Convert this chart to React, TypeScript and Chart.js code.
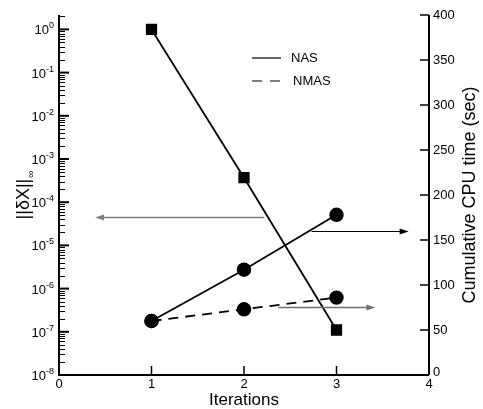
import React, { useEffect, useRef } from 'react';
import { Chart, registerables } from 'chart.js';

Chart.register(...registerables);

// ---- data ----
const iterations = [1, 2, 3];
const nasError = [1.0, 3.7e-4, 1.1e-7];
const nasCpu = [60, 117, 178];
const nmasCpu = [60, 73, 86];

const xTicks = [0, 1, 2, 3, 4];
const errorExponents = [-8, -7, -6, -5, -4, -3, -2, -1, 0];
const cpuTicks = [0, 50, 100, 150, 200, 250, 300, 350, 400];

const seriesNames = ['NAS', 'NMAS'];
const xTitle = 'Iterations';
const leftTitle = '||δX||';
const leftTitleSub = '∞';
const rightTitle = 'Cumulative CPU time (sec)';

// arrow annotations in data coordinates: [xFrom, xTo, value, axis]
const arrowFromX = [2.22, 2.73, 2.37];
const arrowToX = [0.39, 3.78, 3.42];
const arrowValue = [4.6e-5, 160, 75.5];
const arrowAxis = ['y', 'y1', 'y1'];
const arrowColor = ['#808080', '#000000', '#707070'];

const FONT = "'Liberation Sans', Arial, Helvetica, sans-serif";

const axesPlugin = {
  id: 'customAxes',
  afterDraw(chart: any) {
    const ctx: CanvasRenderingContext2D = chart.ctx;
    const area = chart.chartArea;
    const xs = chart.scales.x;
    const ys = chart.scales.y;
    const y1 = chart.scales.y1;
    ctx.save();
    ctx.strokeStyle = '#000';
    ctx.fillStyle = '#000';

    // arrows
    for (let i = 0; i < arrowFromX.length; i++) {
      const sc = arrowAxis[i] === 'y' ? ys : y1;
      const py = Math.round(sc.getPixelForValue(arrowValue[i])) + 0.5;
      const x0 = xs.getPixelForValue(arrowFromX[i]);
      const x1 = xs.getPixelForValue(arrowToX[i]);
      const dir = x1 > x0 ? 1 : -1;
      ctx.strokeStyle = arrowColor[i];
      ctx.fillStyle = arrowColor[i];
      ctx.lineWidth = i === 1 ? 1.2 : 1.6;
      ctx.beginPath();
      ctx.moveTo(x0, py);
      ctx.lineTo(x1 - dir * 7, py);
      ctx.stroke();
      ctx.beginPath();
      ctx.moveTo(x1, py);
      ctx.lineTo(x1 - dir * 9, py - 3);
      ctx.lineTo(x1 - dir * 9, py + 3);
      ctx.closePath();
      ctx.fill();
    }
    ctx.strokeStyle = '#000';
    ctx.fillStyle = '#000';

    // axis lines
    ctx.lineWidth = 2;
    ctx.beginPath();
    ctx.moveTo(area.left, area.top);
    ctx.lineTo(area.left, area.bottom);
    ctx.lineTo(area.right, area.bottom);
    ctx.moveTo(area.right, area.top);
    ctx.lineTo(area.right, area.bottom);
    ctx.stroke();

    // x ticks
    ctx.lineWidth = 1.5;
    ctx.font = `13px ${FONT}`;
    ctx.textAlign = 'center';
    ctx.textBaseline = 'top';
    for (const t of xTicks) {
      const px = xs.getPixelForValue(t);
      ctx.beginPath();
      ctx.moveTo(px, area.bottom);
      ctx.lineTo(px, area.bottom - 9);
      ctx.stroke();
      ctx.fillText(String(t), px, area.bottom + 3);
    }

    // right ticks
    ctx.textAlign = 'left';
    ctx.textBaseline = 'middle';
    for (const t of cpuTicks) {
      const py = y1.getPixelForValue(t);
      ctx.beginPath();
      ctx.moveTo(area.right, py);
      ctx.lineTo(area.right - 9, py);
      ctx.stroke();
      ctx.fillText(String(t), area.right + 4, t === 0 ? py - 3 : py);
    }

    // left log ticks
    const maxV = ys.max;
    for (const e of errorExponents) {
      const py = ys.getPixelForValue(Math.pow(10, e));
      ctx.lineWidth = 2;
      ctx.beginPath();
      ctx.moveTo(area.left, py);
      ctx.lineTo(area.left + 10, py);
      ctx.stroke();
      // label 10^e
      const expStr = String(e);
      ctx.font = `9px ${FONT}`;
      const ew = ctx.measureText(expStr).width;
      const rightEdge = area.left - 5;
      ctx.textAlign = 'right';
      ctx.textBaseline = 'alphabetic';
      ctx.fillText(expStr, rightEdge, py - 1);
      ctx.font = `13px ${FONT}`;
      ctx.fillText('10', rightEdge - ew, py + 5);
      ctx.lineWidth = 1;
      for (let k = 2; k <= 9; k++) {
        const v = k * Math.pow(10, e);
        if (v > maxV) break;
        const my = Math.round(ys.getPixelForValue(v)) + 0.5;
        ctx.beginPath();
        ctx.moveTo(area.left, my);
        ctx.lineTo(area.left + 6, my);
        ctx.stroke();
      }
    }

    // x title
    ctx.font = `17px ${FONT}`;
    ctx.textAlign = 'center';
    ctx.textBaseline = 'top';
    ctx.fillText(xTitle, (area.left + area.right) / 2, area.bottom + 17);

    // right title
    const midY = (area.top + area.bottom) / 2;
    ctx.save();
    ctx.translate(area.right + 41, midY);
    ctx.rotate(-Math.PI / 2);
    ctx.font = `18px ${FONT}`;
    ctx.textAlign = 'center';
    ctx.textBaseline = 'middle';
    ctx.fillText(rightTitle, 0, 0);
    ctx.restore();

    // left title with subscript
    ctx.save();
    ctx.translate(24, midY);
    ctx.rotate(-Math.PI / 2);
    ctx.font = `18px ${FONT}`;
    const mw = ctx.measureText(leftTitle).width;
    ctx.font = `10px ${FONT}`;
    const sw = ctx.measureText(leftTitleSub).width;
    const total = mw + sw + 1;
    ctx.textAlign = 'left';
    ctx.textBaseline = 'middle';
    ctx.font = `18px ${FONT}`;
    ctx.fillText(leftTitle, -total / 2, 0);
    ctx.font = `10px ${FONT}`;
    ctx.fillText(leftTitleSub, -total / 2 + mw + 1, 7);
    ctx.restore();

    // legend
    ctx.font = `13px ${FONT}`;
    ctx.textAlign = 'left';
    ctx.textBaseline = 'middle';
    ctx.lineWidth = 1.2;
    const lx = 252;
    const ly = [58, 81];
    for (let i = 0; i < seriesNames.length; i++) {
      ctx.beginPath();
      ctx.setLineDash(i === 1 ? [10, 8] : []);
      ctx.moveTo(lx, ly[i]);
      ctx.lineTo(lx + 29, ly[i]);
      ctx.stroke();
      ctx.setLineDash([]);
      ctx.fillText(seriesNames[i], i === 0 ? lx + 39 : lx + 41, ly[i]);
    }
    ctx.restore();
  },
};

export default function App() {
  const ref = useRef<HTMLCanvasElement | null>(null);
  useEffect(() => {
    if (!ref.current) return;
    const chart = new Chart(ref.current, {
      type: 'line',
      data: {
        datasets: [
          {
            label: 'NAS error',
            data: iterations.map((x, i) => ({ x, y: nasError[i] })),
            yAxisID: 'y',
            borderColor: '#000',
            backgroundColor: '#000',
            borderWidth: 1.8,
            pointStyle: 'rect',
            pointRadius: 6.7,
            tension: 0,
          },
          {
            label: 'NAS CPU',
            data: iterations.map((x, i) => ({ x, y: nasCpu[i] })),
            yAxisID: 'y1',
            borderColor: '#000',
            backgroundColor: '#000',
            borderWidth: 1.8,
            pointStyle: 'circle',
            pointRadius: 6.3,
            tension: 0,
          },
          {
            label: 'NMAS CPU',
            data: iterations.map((x, i) => ({ x, y: nmasCpu[i] })),
            yAxisID: 'y1',
            borderColor: '#000',
            backgroundColor: '#000',
            borderWidth: 1.8,
            borderDash: [10, 7],
            pointStyle: 'circle',
            pointRadius: 6.3,
            tension: 0,
          },
        ],
      },
      options: {
        responsive: false,
        animation: false,
        layout: { padding: { left: 59, right: 54, top: 15, bottom: 34 } },
        plugins: { legend: { display: false }, tooltip: { enabled: false } },
        scales: {
          x: { type: 'linear', min: 0, max: 4, display: false },
          y: { type: 'logarithmic', min: 1e-8, max: Math.pow(10, 1 / 3), display: false },
          y1: { type: 'linear', min: 0, max: 400, display: false, position: 'right' },
        },
      },
      plugins: [axesPlugin],
    });
    return () => chart.destroy();
  }, []);
  return (
    <div style={{ position: 'fixed', left: 0, top: 0, width: 483, height: 409, background: '#fff' }}>
      <canvas ref={ref} width={483} height={409} />
    </div>
  );
}
